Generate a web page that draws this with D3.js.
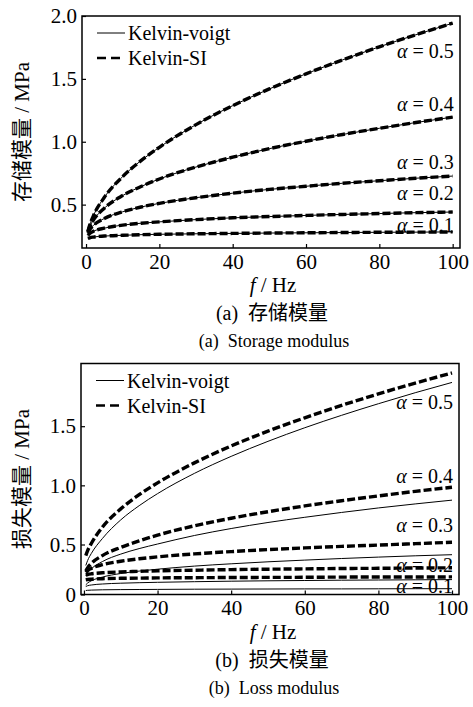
<!DOCTYPE html>
<html>
<head>
<meta charset="utf-8">
<script src="https://cdn.jsdelivr.net/npm/d3@7"></script>
<style>
  body { margin: 0; background: #fff; }
  svg text { font-family: "Liberation Serif", "Times New Roman", serif; fill: #000; }
  .cjk { font-family: "Liberation Serif", "Noto Sans CJK SC", serif; }
</style>
</head>
<body>
<svg id="chart" width="473" height="707"></svg>
<script>
// frequency samples (Hz)
var freq = [0.5, 1, 2, 5, 10, 15, 20, 30, 40, 50, 60, 70, 80, 90, 100];
var alphas = ["0.5", "0.4", "0.3", "0.2", "0.1"];

// storage modulus (MPa), Kelvin-SI, one row per alpha
var storageSI = [
  [0.285, 0.337, 0.411, 0.558, 0.723, 0.850, 0.956, 1.136, 1.287, 1.420, 1.540, 1.651, 1.755, 1.851, 1.943],
  [0.284, 0.324, 0.376, 0.472, 0.572, 0.644, 0.704, 0.799, 0.877, 0.945, 1.004, 1.058, 1.107, 1.153, 1.196],
  [0.275, 0.302, 0.334, 0.390, 0.443, 0.481, 0.510, 0.555, 0.591, 0.621, 0.646, 0.670, 0.690, 0.710, 0.727],
  [0.256, 0.271, 0.288, 0.313, 0.337, 0.352, 0.363, 0.381, 0.395, 0.405, 0.414, 0.422, 0.429, 0.436, 0.441],
  [0.231, 0.236, 0.242, 0.250, 0.256, 0.261, 0.264, 0.268, 0.271, 0.274, 0.276, 0.278, 0.280, 0.281, 0.283]
];
// Kelvin-voigt storage modulus lies on top of Kelvin-SI
var storageVoigt = [
  [0.285, 0.337, 0.411, 0.558, 0.723, 0.850, 0.956, 1.136, 1.287, 1.420, 1.540, 1.651, 1.755, 1.851, 1.943],
  [0.284, 0.324, 0.376, 0.472, 0.572, 0.644, 0.704, 0.799, 0.877, 0.945, 1.004, 1.058, 1.107, 1.153, 1.196],
  [0.275, 0.302, 0.334, 0.390, 0.443, 0.481, 0.510, 0.555, 0.591, 0.621, 0.646, 0.670, 0.690, 0.710, 0.727],
  [0.256, 0.271, 0.288, 0.313, 0.337, 0.352, 0.363, 0.381, 0.395, 0.405, 0.414, 0.422, 0.429, 0.436, 0.441],
  [0.231, 0.236, 0.242, 0.250, 0.256, 0.261, 0.264, 0.268, 0.271, 0.274, 0.276, 0.278, 0.280, 0.281, 0.283]
];

// loss modulus (MPa)
var lossSI = [
  [0.389, 0.438, 0.508, 0.646, 0.801, 0.921, 1.021, 1.190, 1.333, 1.458, 1.571, 1.676, 1.773, 1.864, 1.950],
  [0.234, 0.267, 0.310, 0.389, 0.471, 0.531, 0.579, 0.658, 0.722, 0.777, 0.826, 0.870, 0.911, 0.949, 0.984],
  [0.222, 0.240, 0.261, 0.298, 0.333, 0.357, 0.376, 0.406, 0.429, 0.449, 0.466, 0.481, 0.494, 0.507, 0.519],
  [0.195, 0.200, 0.207, 0.217, 0.226, 0.232, 0.237, 0.243, 0.249, 0.253, 0.256, 0.260, 0.262, 0.265, 0.267],
  [0.147, 0.150, 0.153, 0.158, 0.162, 0.164, 0.166, 0.168, 0.170, 0.171, 0.172, 0.174, 0.175, 0.175, 0.176]
];
var lossVoigt = [
  [0.290, 0.340, 0.410, 0.550, 0.708, 0.828, 0.930, 1.101, 1.245, 1.372, 1.487, 1.592, 1.690, 1.783, 1.870],
  [0.187, 0.217, 0.257, 0.329, 0.404, 0.459, 0.504, 0.576, 0.635, 0.686, 0.730, 0.771, 0.809, 0.843, 0.875],
  [0.097, 0.115, 0.137, 0.174, 0.210, 0.234, 0.253, 0.284, 0.307, 0.327, 0.344, 0.360, 0.374, 0.387, 0.398],
  [0.080, 0.088, 0.095, 0.105, 0.113, 0.118, 0.122, 0.128, 0.133, 0.137, 0.140, 0.143, 0.145, 0.147, 0.149],
  [0.040, 0.042, 0.044, 0.047, 0.049, 0.050, 0.051, 0.053, 0.054, 0.055, 0.056, 0.056, 0.057, 0.058, 0.058]
];

var xTicks = [0, 20, 40, 60, 80, 100];
var storageTicks = [0.5, 1.0, 1.5, 2.0];
var lossTicks = [0, 0.5, 1.0, 1.5];

var svg = d3.select("#chart");

function drawPanel(o) {
  var g = svg.append("g");

  var x = d3.scaleLinear().domain(o.xDomain).range([o.left, o.right]);
  var y = d3.scaleLinear().domain(o.yDomain).range(o.yRange);

  // curves, voigt first then SI on top
  var line = d3.line()
    .x(function(d) { return x(d[0]); })
    .y(function(d) { return y(d[1]); })
    .curve(d3.curveMonotoneX);

  o.voigt.forEach(function(row) {
    g.append("path")
      .datum(freq.map(function(f, i) { return [f, row[i]]; }))
      .attr("d", line)
      .attr("fill", "none")
      .attr("stroke", "#000")
      .attr("stroke-width", 1);
  });
  o.si.forEach(function(row) {
    g.append("path")
      .datum(freq.map(function(f, i) { return [f, row[i]]; }))
      .attr("d", line)
      .attr("fill", "none")
      .attr("stroke", "#000")
      .attr("stroke-width", 3.4)
      .attr("stroke-dasharray", "8,3");
  });

  // axes with inward ticks
  var xAxis = g.append("g")
    .attr("transform", "translate(0," + o.bottom + ")")
    .call(d3.axisBottom(x).tickValues(xTicks).tickSize(-4).tickPadding(6).tickFormat(d3.format("d")));
  var yAxis = g.append("g")
    .attr("transform", "translate(" + o.left + ",0)")
    .call(d3.axisLeft(y).tickValues(o.yTicks).tickSize(-4).tickPadding(5)
      .tickFormat(function(d) { return d === 0 ? "0" : d3.format(".1f")(d); }));
  [xAxis, yAxis].forEach(function(a) {
    a.select(".domain").remove();
    a.selectAll("line").attr("stroke", "#000").attr("stroke-width", 1.2);
    a.selectAll("text").style("font-size", "21px").style("font-family", "'Liberation Serif', serif");
  });

  // frame
  g.append("rect")
    .attr("x", o.left).attr("y", o.top)
    .attr("width", o.right - o.left).attr("height", o.bottom - o.top)
    .attr("fill", "none").attr("stroke", "#000").attr("stroke-width", 1.5);

  // alpha labels near the right end of each dashed curve
  alphas.forEach(function(a, i) {
    var last = o.si[i][o.si[i].length - 1];
    var t = g.append("text")
      .attr("x", x(100) + 1)
      .attr("y", y(last) + o.labelDy[i])
      .attr("dy", "0.35em")
      .attr("text-anchor", "end")
      .style("font-size", "20px");
    t.append("tspan").style("font-style", "italic").text("α");
    t.append("tspan").text(" = " + a);
  });

  // legend
  var lx = o.left + 15, ly = o.top + 17;
  g.append("line").attr("x1", lx).attr("x2", lx + 28).attr("y1", ly).attr("y2", ly)
    .attr("stroke", "#000").attr("stroke-width", 1);
  g.append("text").attr("x", lx + 31).attr("y", ly).attr("dy", "0.35em")
    .style("font-size", "20px").text("Kelvin-voigt");
  g.append("line").attr("x1", lx).attr("x2", lx + 28).attr("y1", ly + 25).attr("y2", ly + 25)
    .attr("stroke", "#000").attr("stroke-width", 2.4).attr("stroke-dasharray", "9,5");
  g.append("text").attr("x", lx + 31).attr("y", ly + 25).attr("dy", "0.35em")
    .style("font-size", "20px").text("Kelvin-SI");

  // y title
  var cy = (o.top + o.bottom) / 2;
  g.append("text")
    .attr("class", "cjk")
    .attr("transform", "translate(22," + cy + ") rotate(-90)")
    .attr("text-anchor", "middle")
    .attr("dy", "0.35em")
    .style("font-size", "21px")
    .text(o.yTitle);

  // x title
  var xt = g.append("text")
    .attr("x", 273).attr("y", o.bottom + 37).attr("dy", "0.35em")
    .attr("text-anchor", "middle").style("font-size", "21px");
  xt.append("tspan").style("font-style", "italic").text("f");
  xt.append("tspan").text(" / Hz");

  // captions
  g.append("text").attr("class", "cjk")
    .attr("x", 272).attr("y", o.bottom + 65).attr("dy", "0.35em")
    .attr("text-anchor", "middle").style("font-size", "20px")
    .attr("xml:space", "preserve")
    .text(o.caption1);
  g.append("text")
    .attr("x", 274).attr("y", o.bottom + 93).attr("dy", "0.35em")
    .attr("text-anchor", "middle").style("font-size", "18px")
    .attr("xml:space", "preserve")
    .text(o.caption2);
}

drawPanel({
  left: 82, right: 460, top: 16, bottom: 248,
  xDomain: [-1.1, 102],
  yDomain: [0.155, 2.0], yRange: [248, 16],
  yTicks: storageTicks,
  si: storageSI, voigt: storageVoigt,
  labelDy: [28, -13, -14, -19, -7],
  yTitle: "存储模量 / MPa",
  caption1: "(a)  存储模量",
  caption2: "(a)  Storage modulus"
});

// loss axis: zero sits at the frame bottom, the 0.5 steps above are wider
drawPanel({
  left: 81, right: 459, top: 363.5, bottom: 594.5,
  xDomain: [-0.8, 101.9],
  yDomain: [0, 0.5, 2.03], yRange: [594.5, 544.5, 363.5],
  yTicks: lossTicks,
  si: lossSI, voigt: lossVoigt,
  labelDy: [29, -11, -17, -3, 9],
  yTitle: "损失模量 / MPa",
  caption1: "(b)  损失模量",
  caption2: "(b)  Loss modulus"
});
</script>
</body>
</html>
